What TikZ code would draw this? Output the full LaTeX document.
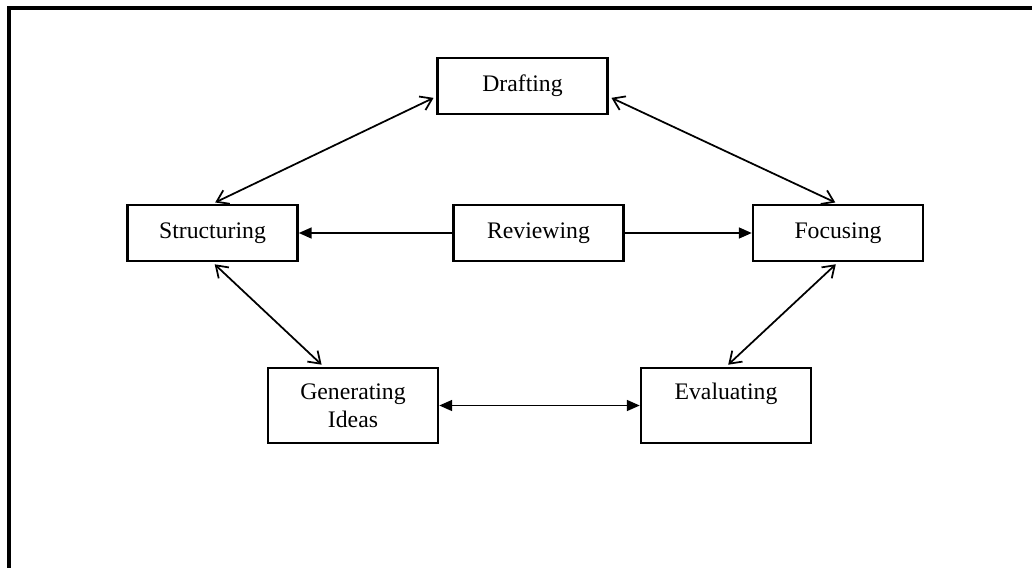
\documentclass[tikz,border=0pt]{standalone}
\usepackage{fontspec}
\setmainfont{Liberation Serif}
\usetikzlibrary{arrows.meta}
\begin{document}
\begin{tikzpicture}[x=0.02cm, y=-0.02cm]
    \useasboundingbox (0,0) rectangle (1032,568);
    \tikzstyle{bnode} = [line width=0.05cm, draw=black, rectangle, inner sep = 0pt, minimum width = 3.4cm, minimum height = 1.12cm, align=center, font=\fontsize{13.5}{16}\selectfont]
    \tikzstyle{tnode} = [bnode, minimum height = 1.5cm]
    \tikzstyle{oarr} = [line width=0.035cm, {Straight Barb[length=0.22cm, width=0.3cm]}-{Straight Barb[length=0.22cm, width=0.3cm]}, shorten <=0.06cm, shorten >=0.06cm]
    \tikzstyle{farr} = [line width=0.035cm, -{Triangle[length=0.26cm, width=0.22cm]}]
    \tikzstyle{farrb} = [line width=0.035cm, {Triangle[length=0.26cm, width=0.22cm]}-{Triangle[length=0.26cm, width=0.22cm]}]

    % frame
    \draw[line width=0.07cm] (9,568) -- (9,8) -- (1032,8);

    \node[bnode] (draft) at (522.5,86) {Drafting};
    \node[bnode] (struct) at (212.5,233) {Structuring};
    \node[bnode] (review) at (538.5,233) {Reviewing};
    \node[bnode] (focus) at (838,233) {Focusing};
    \node[tnode] (gener) at (353,405.5) {Generating\\Ideas};
    \node[tnode] (evalu) at (726,405.5) {Evaluating\\\vphantom{Ideas}};

    \draw[oarr] (struct.north) -- (draft.187);
    \draw[oarr] (draft.353) -- (focus.north);
    \draw[oarr] (struct.south) -- (gener.127);
    \draw[oarr] (focus.south) -- (evalu.north);

    \draw[farr] (review.west) -- (struct.east);
    \draw[farr] (review.east) -- (focus.west);
    \draw[farrb] (gener.east) -- (evalu.west);
\end{tikzpicture}
\end{document}
